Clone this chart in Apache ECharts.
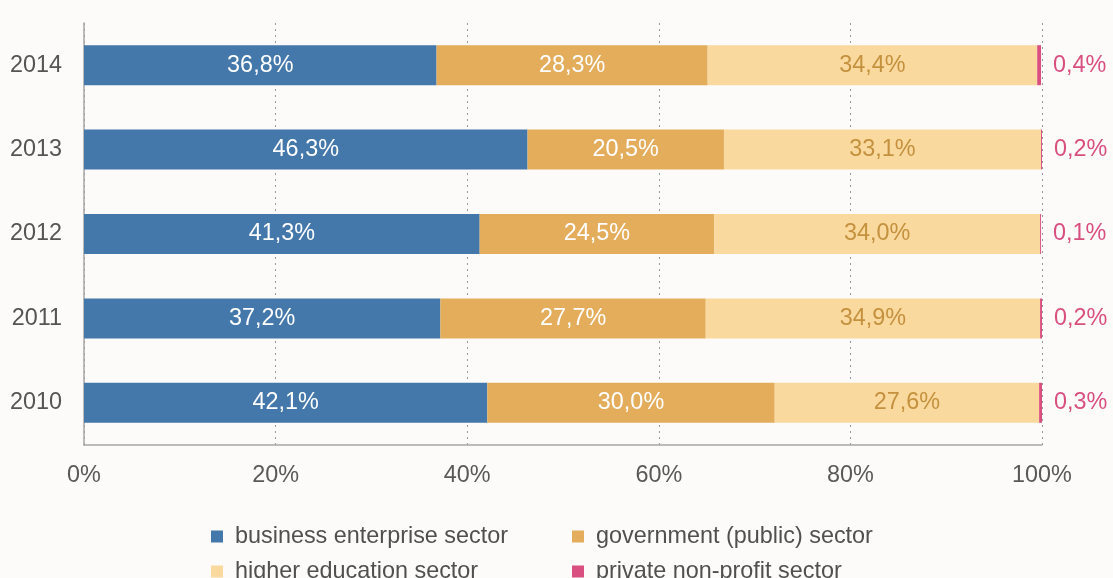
<!DOCTYPE html>
<html>
<head>
<meta charset="utf-8">
<script src="https://cdn.jsdelivr.net/npm/echarts@6/dist/echarts.min.js"></script>
<style>
html,body{margin:0;padding:0;background:#FCFBF9;}
#chart{width:1113px;height:578px;}
</style>
</head>
<body>
<div id="chart"></div>
<script>
var years = ['2014', '2013', '2012', '2011', '2010'];
var business = [36.8, 46.3, 41.3, 37.2, 42.1];
var government = [28.3, 20.5, 24.5, 27.7, 30.0];
var higherEducation = [34.4, 33.1, 34.0, 34.9, 27.6];
var privateNonProfit = [0.4, 0.2, 0.1, 0.2, 0.3];
var xTicks = [0, 20, 40, 60, 80, 100];

var names = ['business enterprise sector', 'government (public) sector', 'higher education sector', 'private non-profit sector'];
var colors = ['#4477AA', '#E3AD5C', '#FAD99E', '#D94F80'];
var FONT = 'Liberation Sans, Arial, sans-serif';
var FS = 23.4;

function fmt(v) { return v.toFixed(1).replace('.', ',') + '%'; }

function mkSeries(name, data, color, labelColor, pos) {
  return {
    name: name, type: 'bar', stack: 'total', data: data, barWidth: 40,
    itemStyle: { color: color },
    label: {
      show: true, position: pos, distance: pos === 'right' ? 12 : 5,
      color: labelColor, fontSize: FS, fontFamily: FONT,
      formatter: function (p) { return fmt(p.value); }
    },
    emphasis: { disabled: true }
  };
}

function mkLegend(name, left, top) {
  return {
    data: [{ name: name, icon: 'rect' }],
    left: left, top: top, padding: 0, itemWidth: 12, itemHeight: 12,
    textStyle: { fontSize: FS, color: '#505050', fontFamily: FONT, padding: [0, 0, 0, 7] },
    selectedMode: false
  };
}

var chart = echarts.init(document.getElementById('chart'));
chart.setOption({
  backgroundColor: '#FCFBF9',
  animation: false,
  color: colors,
  grid: { left: 84, right: 71, top: 23, bottom: 133 },
  legend: [
    mkLegend(names[0], 211, 525),
    mkLegend(names[1], 572, 525),
    mkLegend(names[2], 211, 560),
    mkLegend(names[3], 572, 560)
  ],
  xAxis: {
    type: 'value', min: xTicks[0], max: xTicks[xTicks.length - 1], interval: 20,
    axisLine: { show: true, lineStyle: { color: '#A6A6A6', width: 1.5 } },
    axisTick: { show: false },
    axisLabel: { fontSize: FS, color: '#595959', fontFamily: FONT, margin: 19,
      formatter: function (v) { return v + '%'; } },
    splitLine: { show: true, lineStyle: { color: '#999999', type: [2, 4], width: 1 } }
  },
  yAxis: {
    type: 'category', data: years, inverse: true,
    axisLine: { show: true, lineStyle: { color: '#A6A6A6', width: 1.5 } },
    axisTick: { show: false },
    axisLabel: { fontSize: FS, color: '#555555', fontFamily: FONT, margin: 22 }
  },
  series: [
    mkSeries(names[0], business, colors[0], '#FFFFFF', 'inside'),
    mkSeries(names[1], government, colors[1], '#FFFFFF', 'inside'),
    mkSeries(names[2], higherEducation, colors[2], '#C4913E', 'inside'),
    mkSeries(names[3], privateNonProfit, colors[3], '#D94F80', 'right')
  ]
});
</script>
</body>
</html>
